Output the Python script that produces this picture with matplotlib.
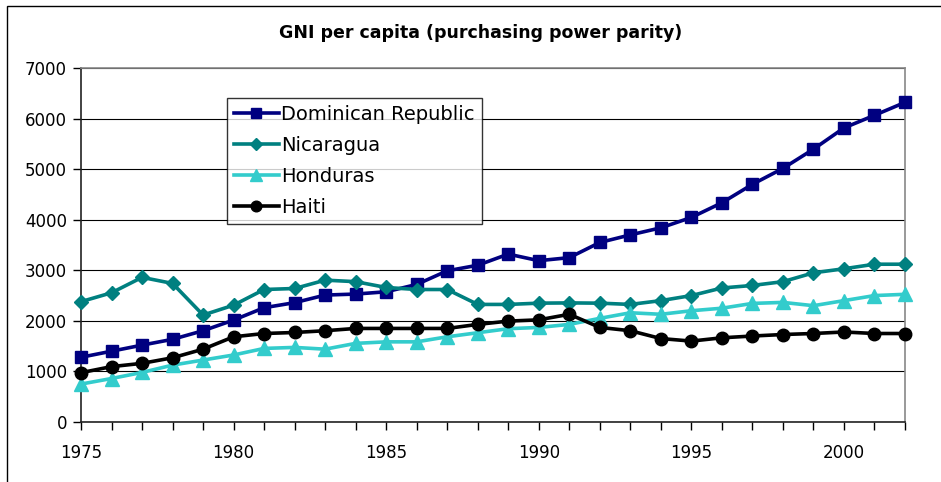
import numpy as np
import matplotlib
matplotlib.use("Agg")
from matplotlib import pyplot as plt
from matplotlib.patches import Rectangle

# GNI per capita, PPP
years = list(range(1975, 2003))
dominican = [1280, 1400, 1520, 1635, 1805, 2015, 2260, 2360, 2510, 2530,
             2575, 2720, 2990, 3100, 3320, 3190, 3250, 3550, 3700, 3840,
             4045, 4335, 4700, 5015, 5395, 5815, 6065, 6320]
nicaragua = [2380, 2555, 2860, 2740, 2115, 2310, 2620, 2640, 2805, 2775,
             2660, 2620, 2620, 2325, 2325, 2350, 2355, 2350, 2325, 2400,
             2500, 2650, 2700, 2775, 2950, 3030, 3120, 3120]
honduras = [750, 860, 980, 1125, 1225, 1325, 1455, 1475, 1440, 1555,
            1585, 1585, 1685, 1765, 1845, 1870, 1930, 2050, 2160, 2130,
            2200, 2250, 2345, 2365, 2300, 2400, 2500, 2525]
haiti = [975, 1095, 1160, 1270, 1440, 1685, 1750, 1770, 1805, 1850,
         1850, 1850, 1850, 1930, 1995, 2020, 2130, 1870, 1805, 1650,
         1600, 1665, 1700, 1730, 1750, 1780, 1750, 1750]
y_ticks = [0, 1000, 2000, 3000, 4000, 5000, 6000, 7000]
x_labels = [1975, 1980, 1985, 1990, 1995, 2000]

plt.rcParams['font.family'] = ['DejaVu Sans']

fig = plt.figure(figsize=(9.41, 4.82), dpi=100)
ax = fig.add_axes([81/941, 1 - 422/482, (905 - 81)/941, (422 - 68)/482])

# outer chart border (only left/top visible in reference)
fig.patches.append(Rectangle((7/941, -0.1), 1.2, 1 - 6/482 + 0.1,
                             transform=fig.transFigure, fill=False,
                             edgecolor='black', linewidth=1.0))

series = [
    ("Dominican Republic", dominican, "#000080", "s", 9),
    ("Nicaragua", nicaragua, "#008080", "D", 7.5),
    ("Honduras", honduras, "#33CCCC", "^", 9.5),
    ("Haiti", haiti, "black", "o", 9),
]
for name, vals, col, mk, ms in series:
    ax.plot(years, vals, color=col, marker=mk, markersize=ms, linewidth=2.6,
            markerfacecolor=col, markeredgecolor=col, label=name,
            clip_on=False, zorder=3)

ax.set_xlim(1975, 2002)
ax.set_ylim(0, 7000)
ax.set_yticks(y_ticks)
ax.set_xticks(years, minor=False)
ax.set_xticklabels([str(y) if y in x_labels else "" for y in years])
ax.grid(axis='y', color='black', linewidth=0.8)
ax.set_axisbelow(True)

for s in ['top', 'right']:
    ax.spines[s].set_color('#888888')
    ax.spines[s].set_linewidth(1.2)
for s in ['left', 'bottom']:
    ax.spines[s].set_color('#222222')
    ax.spines[s].set_linewidth(1.2)

ax.tick_params(axis='both', direction='out', length=6, width=1,
               labelsize=12, colors='black')
ax.tick_params(axis='x', pad=10)
ax.tick_params(axis='y', pad=4)

fig.text(481/941, 1 - 33/482, "GNI per capita (purchasing power parity)",
         ha='center', va='center', fontsize=12.5, fontweight='bold')

leg = ax.legend(loc='upper left', bbox_to_anchor=((227 - 81)/824, 1 - (98 - 68)/354),
                fontsize=14, frameon=True, fancybox=False, edgecolor='black',
                handlelength=2.3, handletextpad=0.15, borderpad=0.35,
                labelspacing=0.62, borderaxespad=0, markerscale=0.85)
leg.get_frame().set_linewidth(1.0)

fig.savefig("out.png", dpi=100)
